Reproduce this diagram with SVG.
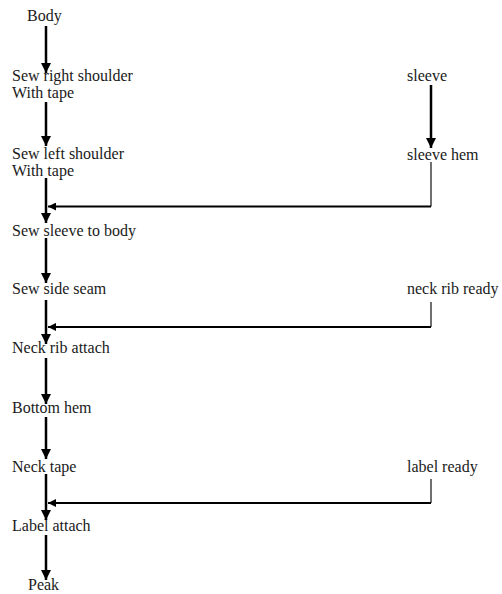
<svg xmlns="http://www.w3.org/2000/svg" width="502" height="594" viewBox="0 0 502 594">
<style>
text{font-family:"Liberation Serif","Times New Roman",serif;font-size:16px;fill:#1a1a1a}
.a{stroke:#000;stroke-width:2.5;fill:none}
.f{stroke:#000;stroke-width:2;fill:none}
.t{stroke:#222;stroke-width:1.3;fill:none}
</style>
<defs>
<marker id="ah" markerWidth="4" markerHeight="4" refX="4" refY="2" orient="auto" markerUnits="strokeWidth"><path d="M0,0 L4,2 L0,4 z" fill="#000"/></marker>
<marker id="al" markerWidth="5" markerHeight="4" refX="4" refY="2" orient="auto" markerUnits="strokeWidth"><path d="M0,0 L4,2 L0,4 z" fill="#000"/></marker>
</defs>
<rect width="502" height="594" fill="#fff"/>
<g id="n-body"><text x="27" y="21">Body</text></g>
<g id="n-right"><text x="12" y="81">Sew right shoulder</text><text x="12" y="98">With tape</text></g>
<g id="n-sleeve"><text x="407" y="81">sleeve</text></g>
<g id="n-left"><text x="12" y="159">Sew left shoulder</text><text x="12" y="176">With tape</text></g>
<g id="n-hem"><text x="407" y="160">sleeve hem</text></g>
<g id="n-sleevebody"><text x="12" y="236">Sew sleeve to body</text></g>
<g id="n-side"><text x="12" y="294">Sew side seam</text></g>
<g id="n-neckready"><text x="407" y="294">neck rib ready</text></g>
<g id="n-neckattach"><text x="12" y="353">Neck rib attach</text></g>
<g id="n-bottom"><text x="12" y="413">Bottom hem</text></g>
<g id="n-necktape"><text x="12" y="472">Neck tape</text></g>
<g id="n-labelready"><text x="407" y="472">label ready</text></g>
<g id="n-labelattach"><text x="12" y="531">Label attach</text></g>
<g id="n-peak"><text x="28" y="590">Peak</text></g>
<g id="connectors">
<line class="a" x1="46" y1="26" x2="46" y2="73" marker-end="url(#ah)"/>
<line class="a" x1="46" y1="102" x2="46" y2="146" marker-end="url(#ah)"/>
<line class="a" x1="46" y1="178" x2="46" y2="223" marker-end="url(#ah)"/>
<line class="a" x1="431" y1="85" x2="431" y2="148" marker-end="url(#ah)"/>
<polyline class="t" points="431,162 431,206.5"/>
<polyline class="f" points="431,206.5 48,206.5" marker-end="url(#al)"/>
<line class="a" x1="46" y1="238" x2="46" y2="283" marker-end="url(#ah)"/>
<line class="a" x1="46" y1="300" x2="46" y2="344" marker-end="url(#ah)"/>
<polyline class="t" points="431,302 431,327"/>
<polyline class="f" points="431,327 48,327" marker-end="url(#al)"/>
<line class="a" x1="46" y1="358" x2="46" y2="404" marker-end="url(#ah)"/>
<line class="a" x1="46" y1="417" x2="46" y2="459" marker-end="url(#ah)"/>
<line class="a" x1="46" y1="474" x2="46" y2="520" marker-end="url(#ah)"/>
<polyline class="t" points="431,479 431,503"/>
<polyline class="f" points="431,503 48,503" marker-end="url(#al)"/>
<line class="a" x1="46" y1="535" x2="46" y2="580" marker-end="url(#ah)"/>
</g>
</svg>
